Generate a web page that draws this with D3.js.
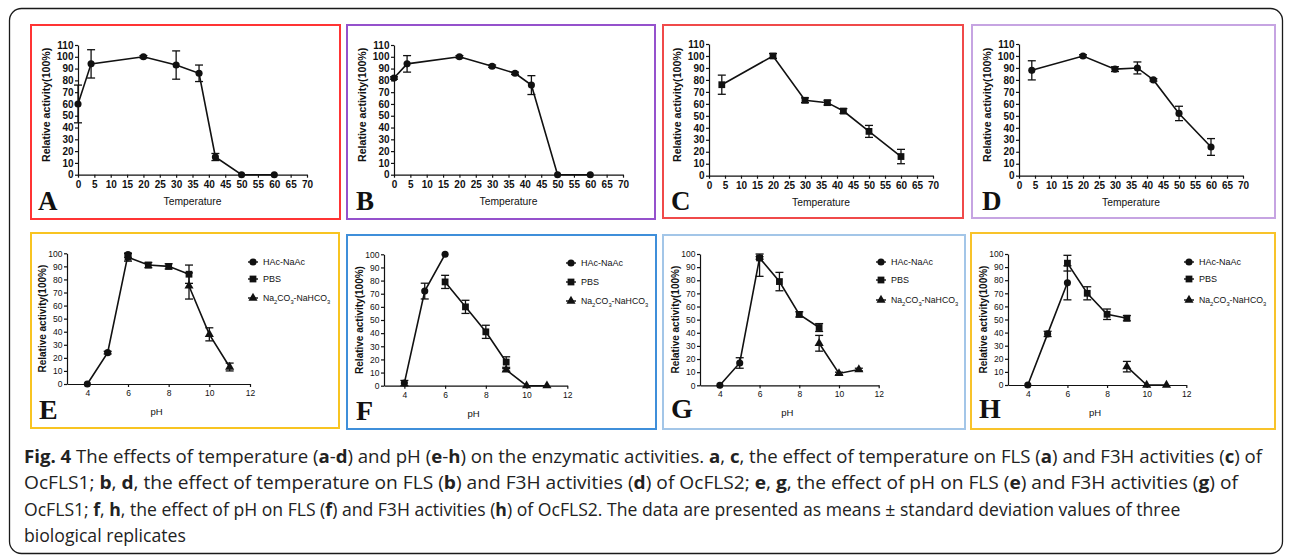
<!DOCTYPE html>
<html><head><meta charset="utf-8">
<script src="https://cdn.jsdelivr.net/npm/d3@7"></script>
<style>body{margin:0;background:#fff}svg{display:block}</style>
</head><body><svg id="c" width="1293" height="557"></svg>
<script>
// ---------- DATA ----------
const tempTicks = [0,5,10,15,20,25,30,35,40,45,50,55,60,65,70];
const tempYTicks = [0,10,20,30,40,50,60,70,80,90,100,110];
const phTicks = [4,6,8,10,12];
const phYTicks = [0,10,20,30,40,50,60,70,80,90,100];

const tempAB = [0,4,20,30,37,42,50,60];
const relA = [60,94,100,93,86,15,0,0];
const sdA  = [16,12,1,12,7,3,0,0];
const relB = [82,94,100,92,86,76,0,0];
const sdB  = [1,7,1,1,1,8,0,0];
const tempCD = [4,20,30,37,42,50,60];
const relC = [76,100,63,61,54,37,16];
const sdC  = [8,2,2,2,2,5,6];
const relD = [88,100,89,90,80,52,24];
const sdD  = [8,1,2,5,1,6,7];

const buffers = ["HAc-NaAc","PBS","Na2CO3-NaHCO3"];
const hacX = [4,5,6];
const pbsX = [6,7,8,9];
const naX  = [9,10,11];
const hacE = [0,24,99],  hacE_sd = [0,1,2];
const pbsE = [97,91,90,84], pbsE_sd = [3,2,2,7];
const naE  = [75,38,13], naE_sd = [10,5,3];
const hacF = [2,72,100], hacF_sd = [2,6,0];
const pbsF = [79,60,41,18], pbsF_sd = [5,5,5,4];
const naF  = [12,0,0], naF_sd = [1,0,0];
const hacG = [0,17,97], hacG_sd = [0,4,1];
const pbsG = [97,79,54,44], pbsG_sd = [14,7,2,3];
const naG  = [32,9,12], naG_sd = [6,1,1];
const hacH = [0,39,78], hacH_sd = [0,2,13];
const pbsH = [93,70,54,51], pbsH_sd = [6,5,4,2];
const naH  = [14,0,0], naH_sd = [4,0,0];

const captionLines = [
  [["Fig. 4",1],[" The effects of temperature (",0],["a",1],["-",0],["d",1],[") and pH (",0],["e",1],["-",0],["h",1],[") on the enzymatic activities. ",0],["a",1],[", ",0],["c",1],[", the effect of temperature on FLS (",0],["a",1],[") and F3H activities (",0],["c",1],[") of",0]],
  [["OcFLS1; ",0],["b",1],[", ",0],["d",1],[", the effect of temperature on FLS (",0],["b",1],[") and F3H activities (",0],["d",1],[") of OcFLS2; ",0],["e",1],[", ",0],["g",1],[", the effect of pH on FLS (",0],["e",1],[") and F3H activities (",0],["g",1],[") of",0]],
  [["OcFLS1; ",0],["f",1],[", ",0],["h",1],[", the effect of pH on FLS (",0],["f",1],[") and F3H activities (",0],["h",1],[") of OcFLS2. The data are presented as means \u00b1 standard deviation values of three",0]],
  [["biological replicates",0]]
];
const captionEnds = [1263,1238,1181,186];

// ---------- DRAW ----------
const svg = d3.select('#c');
svg.append('rect').attr('width',1293).attr('height',557).attr('fill','#fff');
svg.append('rect').attr('x',9.5).attr('y',8.5).attr('width',1273).attr('height',545)
  .attr('rx',12).attr('fill','none').attr('stroke','#1a1a1a').attr('stroke-width',1.3);

const FONT = "Arial, 'Liberation Sans', sans-serif";

function symbolPath(type){
  const t = type==='circle'?d3.symbolCircle:type==='square'?d3.symbolSquare:d3.symbolTriangle;
  const size = type==='circle'?40:type==='square'?46:36;
  return d3.symbol().type(t).size(size)();
}

function drawSeries(g, x, y, xs, ys, sds, type, ymax){
  const pts = xs.map((v,i)=>({x:v,y:ys[i],sd:sds[i]}));
  g.append('path').datum(pts)
    .attr('d', d3.line().x(d=>x(d.x)).y(d=>y(d.y)))
    .attr('fill','none').attr('stroke','#111').attr('stroke-width',1.6);
  pts.forEach(d=>{
    if(d.sd>0){
      const lo=y(Math.max(0,d.y-d.sd)), hi=y(Math.min(ymax,d.y+d.sd)), cx=x(d.x);
      const eb = g.append('g').attr('stroke','#111').attr('stroke-width',1.3);
      eb.append('line').attr('x1',cx).attr('x2',cx).attr('y1',lo).attr('y2',hi);
      eb.append('line').attr('x1',cx-4).attr('x2',cx+4).attr('y1',lo).attr('y2',lo);
      eb.append('line').attr('x1',cx-4).attr('x2',cx+4).attr('y1',hi).attr('y2',hi);
    }
  });
  g.selectAll(null).data(pts).enter().append('path')
    .attr('d', symbolPath(type))
    .attr('transform', d=>`translate(${x(d.x)},${y(d.y)})`)
    .attr('fill','#111');
}

function panelBox(b){
  svg.append('rect').attr('x',b.x).attr('y',b.y).attr('width',b.w).attr('height',b.h)
    .attr('fill','none').attr('stroke',b.color).attr('stroke-width',2);
  svg.append('text').attr('x',b.lx).attr('y',b.ly).text(b.letter)
    .attr('font-family',"'Liberation Serif','Times New Roman',serif").attr('font-weight','bold')
    .attr('font-size',b.lsize).attr('fill','#111');
}

function styleAxis(g, fs, bold){
  g.selectAll('path.domain').attr('stroke','#111').attr('stroke-width',1.2);
  g.selectAll('.tick line').attr('stroke','#111').attr('stroke-width',1.2);
  g.selectAll('.tick text').attr('font-family',FONT).attr('font-size',fs)
    .attr('font-weight',bold?'bold':'normal').attr('fill','#111');
}

// top-row temperature panels
const tempPanels = [
  {box:{x:31,y:25,w:309,h:194,color:'#ff3434',letter:'A',lx:38,ly:210,lsize:27}, x0:78,x1:307,y0:174.7,y1:45, xs:tempAB, ys:relA, sds:sdA, type:'circle'},
  {box:{x:347,y:25,w:308,h:194,color:'#9551cc',letter:'B',lx:356,ly:210,lsize:27}, x0:394,x1:623,y0:174.7,y1:45, xs:tempAB, ys:relB, sds:sdB, type:'circle'},
  {box:{x:663,y:25,w:300,h:193,color:'#f04a4a',letter:'C',lx:671,ly:210,lsize:27}, x0:709,x1:933,y0:175.7,y1:44, xs:tempCD, ys:relC, sds:sdC, type:'square'},
  {box:{x:972,y:25,w:303,h:193,color:'#c6a4e2',letter:'D',lx:982,ly:210,lsize:27}, x0:1019,x1:1243,y0:175.7,y1:44, xs:tempCD, ys:relD, sds:sdD, type:'circle'}
];

tempPanels.forEach(p=>{
  panelBox(p.box);
  const x = d3.scaleLinear().domain([0,70]).range([p.x0,p.x1]);
  const y = d3.scaleLinear().domain([0,110]).range([p.y0,p.y1]);
  const g = svg.append('g');
  const gx = g.append('g').attr('transform',`translate(0,${p.y0})`)
    .call(d3.axisBottom(x).tickValues(tempTicks).tickSize(3).tickSizeOuter(0).tickPadding(3));
  styleAxis(gx,10,true);
  const gy = g.append('g').attr('transform',`translate(${p.x0},0)`)
    .call(d3.axisLeft(y).tickValues(tempYTicks).tickSize(3).tickSizeOuter(0).tickPadding(1.5));
  styleAxis(gy,10,true);
  g.append('text').attr('x',(p.x0+p.x1)/2).attr('y',p.y0+30).attr('text-anchor','middle')
    .attr('font-family',FONT).attr('font-size',10.3).attr('fill','#111').text('Temperature');
  g.append('text').attr('transform',`translate(${p.x0-31},${(p.y0+p.y1)/2-5}) rotate(-90)`)
    .attr('text-anchor','middle').attr('dominant-baseline','middle')
    .attr('font-family',FONT).attr('font-size',10.6).attr('font-weight','bold').attr('fill','#111')
    .text('Relative activity(100%)');
  drawSeries(g,x,y,p.xs,p.ys,p.sds,p.type,110);
});

// bottom-row pH panels
const phPanels = [
  {box:{x:31,y:233,w:308,h:195,color:'#f8c421',letter:'E',lx:39,ly:419,lsize:28}, x0:67,x1:250,y0:384,y1:253.3, lx:253,lt:263,ly:[262,279,298],
   s:[[hacX,hacE,hacE_sd],[pbsX,pbsE,pbsE_sd],[naX,naE,naE_sd]]},
  {box:{x:347,y:235,w:309,h:194,color:'#3f8fda',letter:'F',lx:356,ly:420,lsize:28}, x0:384,x1:567.3,y0:385.7,y1:254.3, lx:571,lt:581,ly:[263,282,301],
   s:[[hacX,hacF,hacF_sd],[pbsX,pbsF,pbsF_sd],[naX,naF,naF_sd]]},
  {box:{x:663,y:235,w:302,h:194,color:'#a3c6e8',letter:'G',lx:671,ly:418,lsize:28}, x0:700,x1:878.7,y0:385.3,y1:254, lx:881,lt:891,ly:[262,280,300],
   s:[[hacX,hacG,hacG_sd],[pbsX,pbsG,pbsG_sd],[naX,naG,naG_sd]]},
  {box:{x:971,y:233,w:304,h:196,color:'#f8c32a',letter:'H',lx:979,ly:418,lsize:28}, x0:1008,x1:1186.3,y0:385,y1:254, lx:1189,lt:1199,ly:[262,279,300],
   s:[[hacX,hacH,hacH_sd],[pbsX,pbsH,pbsH_sd],[naX,naH,naH_sd]]}
];
const types = ['circle','square','triangle'];

phPanels.forEach(p=>{
  panelBox(p.box);
  const x = d3.scaleLinear().domain([3,12]).range([p.x0,p.x1]);
  const y = d3.scaleLinear().domain([0,100]).range([p.y0,p.y1]);
  const g = svg.append('g');
  const gx = g.append('g').attr('transform',`translate(0,${p.y0})`)
    .call(d3.axisBottom(x).tickValues(phTicks).tickSize(3).tickSizeOuter(0).tickPadding(3));
  styleAxis(gx,8.5,false);
  const gy = g.append('g').attr('transform',`translate(${p.x0},0)`)
    .call(d3.axisLeft(y).tickValues(phYTicks).tickSize(3).tickSizeOuter(0).tickPadding(1.5));
  styleAxis(gy,8.5,false);
  g.append('text').attr('x',(p.x0+p.x1)/2-2).attr('y',p.y0+31).attr('text-anchor','middle')
    .attr('font-family',FONT).attr('font-size',9.5).attr('fill','#111').text('pH');
  g.append('text').attr('transform',`translate(${p.x0-24},${(p.y0+p.y1)/2})`+' rotate(-90)')
    .attr('text-anchor','middle').attr('dominant-baseline','middle')
    .attr('font-family',FONT).attr('font-size',10).attr('font-weight','bold').attr('fill','#111')
    .text('Relative activity(100%)');
  p.s.forEach((s,i)=>drawSeries(g,x,y,s[0],s[1],s[2],types[i],100));
  // legend
  buffers.forEach((name,i)=>{
    const ly = p.ly[i];
    g.append('line').attr('x1',p.lx-5).attr('x2',p.lx+5).attr('y1',ly).attr('y2',ly)
      .attr('stroke','#111').attr('stroke-width',1.4);
    g.append('path').attr('d',symbolPath(types[i])).attr('transform',`translate(${p.lx},${ly})`).attr('fill','#111');
    const t = g.append('text').attr('x',p.lt).attr('y',ly+3.3)
      .attr('font-family',FONT).attr('font-size',9).attr('fill','#111');
    if(name.startsWith('Na2')){
      t.attr('font-size',8.7);
      t.append('tspan').text('Na');
      t.append('tspan').text('2').attr('font-size',5.8).attr('dy',2.3);
      t.append('tspan').text('CO').attr('dy',-2.3);
      t.append('tspan').text('3').attr('font-size',5.8).attr('dy',2.3);
      t.append('tspan').text('-NaHCO').attr('dy',-2.3);
      t.append('tspan').text('3').attr('font-size',5.8).attr('dy',2.3);
    } else t.text(name);
  });
});

// caption
captionLines.forEach((line,i)=>{
  const t = svg.append('text').attr('font-family',"'Open Sans','Noto Sans',sans-serif")
    .attr('font-size',18.5).attr('fill','#222').attr('x',0).attr('y',0);
  line.forEach(([s,b])=>{
    t.append('tspan').text(s).attr('font-weight',b?'bold':'normal');
  });
  const w = t.node().getComputedTextLength();
  const target = captionEnds[i]-24;
  t.attr('transform',`translate(24,${463+i*26.3}) scale(${target/w},1)`);
});
</script>
</body></html>
